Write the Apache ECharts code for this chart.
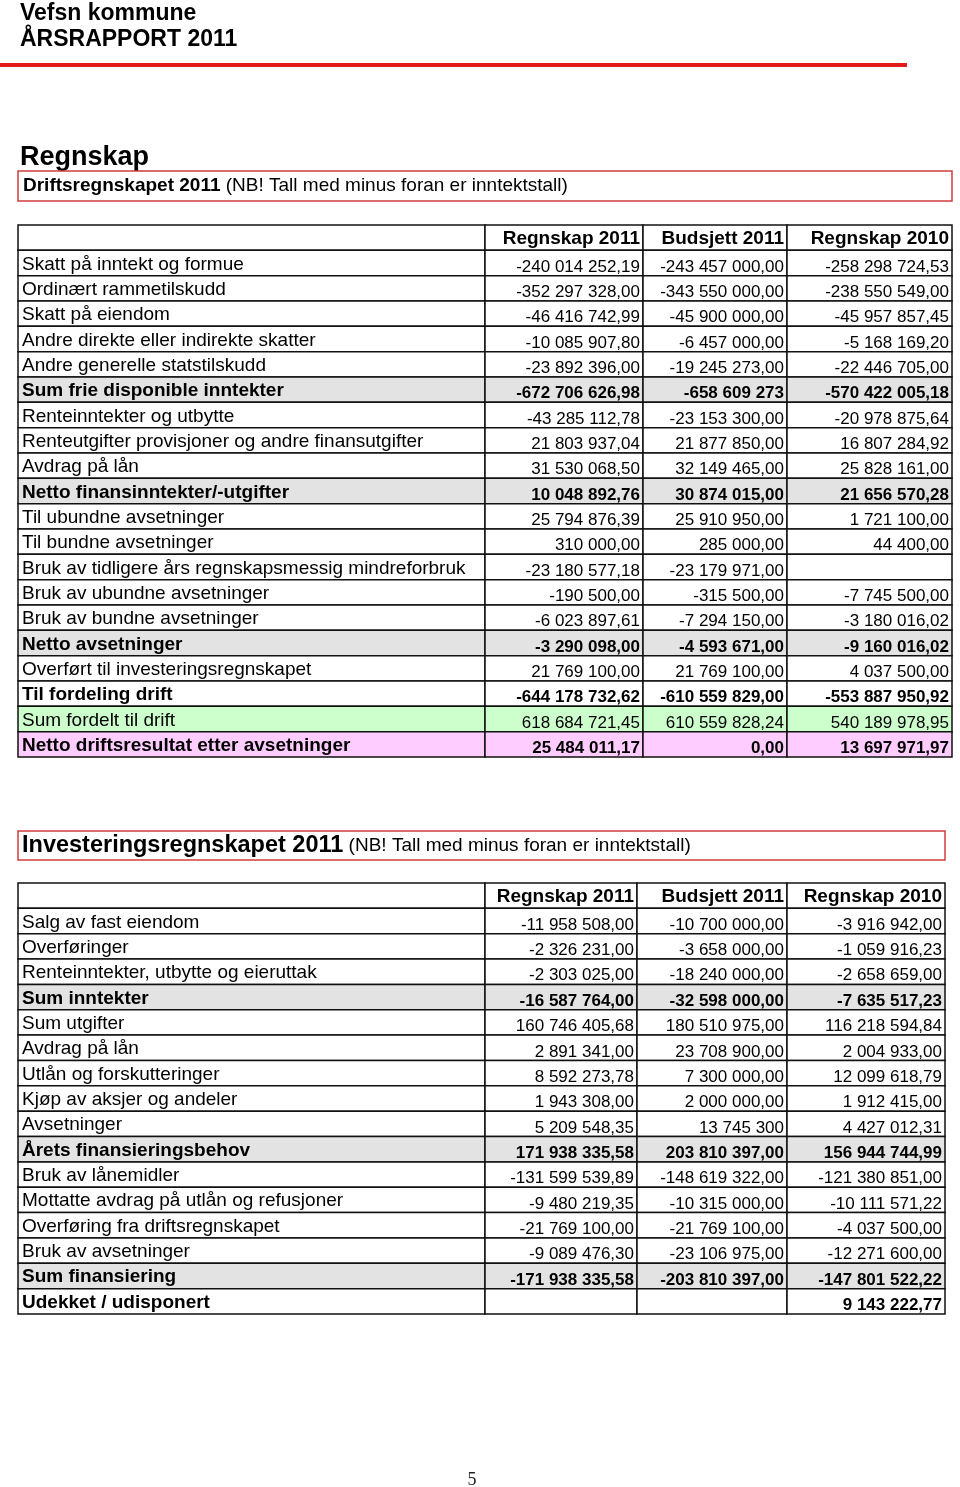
<!DOCTYPE html>
<html>
<head>
<meta charset="utf-8">
<script src="https://cdn.jsdelivr.net/npm/echarts@6/dist/echarts.min.js"></script>
<style>html,body{margin:0;padding:0;background:#fff}#c{width:960px;height:1487px}</style>
</head>
<body>
<div id="c"></div>
<script>
// ---------------- DATA ----------------
const HEADERS = ['Regnskap 2011', 'Budsjett 2011', 'Regnskap 2010'];

const DRIFT_LABELS = [
  'Skatt på inntekt og formue', 'Ordinært rammetilskudd', 'Skatt på eiendom',
  'Andre direkte eller indirekte skatter', 'Andre generelle statstilskudd',
  'Sum frie disponible inntekter', 'Renteinntekter og utbytte',
  'Renteutgifter provisjoner og andre finansutgifter', 'Avdrag på lån',
  'Netto finansinntekter/-utgifter', 'Til ubundne avsetninger', 'Til bundne avsetninger',
  'Bruk av tidligere års regnskapsmessig mindreforbruk', 'Bruk av ubundne avsetninger',
  'Bruk av bundne avsetninger', 'Netto avsetninger', 'Overført til investeringsregnskapet',
  'Til fordeling drift', 'Sum fordelt til drift', 'Netto driftsresultat etter avsetninger'
];
const DRIFT_REGNSKAP_2011 = [
  -240014252.19, -352297328.00, -46416742.99, -10085907.80, -23892396.00,
  -672706626.98, -43285112.78, 21803937.04, 31530068.50, 10048892.76,
  25794876.39, 310000.00, -23180577.18, -190500.00, -6023897.61,
  -3290098.00, 21769100.00, -644178732.62, 618684721.45, 25484011.17
];
const DRIFT_BUDSJETT_2011 = [
  -243457000.00, -343550000.00, -45900000.00, -6457000.00, -19245273.00,
  -658609273, -23153300.00, 21877850.00, 32149465.00, 30874015.00,
  25910950.00, 285000.00, -23179971.00, -315500.00, -7294150.00,
  -4593671.00, 21769100.00, -610559829.00, 610559828.24, 0.00
];
const DRIFT_REGNSKAP_2010 = [
  -258298724.53, -238550549.00, -45957857.45, -5168169.20, -22446705.00,
  -570422005.18, -20978875.64, 16807284.92, 25828161.00, 21656570.28,
  1721100.00, 44400.00, null, -7745500.00, -3180016.02,
  -9160016.02, 4037500.00, -553887950.92, 540189978.95, 13697971.97
];
// row kinds: n = normal, s = sum (bold, grey), b = bold, g = green, p = pink (bold)
const DRIFT_KINDS = ['n','n','n','n','n','s','n','n','n','s','n','n','n','n','n','s','n','b','g','p'];
// cells shown without decimals [row, column]
const DRIFT_WHOLE = [[5, 1]];

const INV_LABELS = [
  'Salg av fast eiendom', 'Overføringer', 'Renteinntekter, utbytte og eieruttak',
  'Sum inntekter', 'Sum utgifter', 'Avdrag på lån', 'Utlån og forskutteringer',
  'Kjøp av aksjer og andeler', 'Avsetninger', 'Årets finansieringsbehov',
  'Bruk av lånemidler', 'Mottatte avdrag på utlån og refusjoner',
  'Overføring fra driftsregnskapet', 'Bruk av avsetninger', 'Sum finansiering',
  'Udekket / udisponert'
];
const INV_REGNSKAP_2011 = [
  -11958508.00, -2326231.00, -2303025.00, -16587764.00, 160746405.68,
  2891341.00, 8592273.78, 1943308.00, 5209548.35, 171938335.58,
  -131599539.89, -9480219.35, -21769100.00, -9089476.30, -171938335.58, null
];
const INV_BUDSJETT_2011 = [
  -10700000.00, -3658000.00, -18240000.00, -32598000.00, 180510975.00,
  23708900.00, 7300000.00, 2000000.00, 13745300, 203810397.00,
  -148619322.00, -10315000.00, -21769100.00, -23106975.00, -203810397.00, null
];
const INV_REGNSKAP_2010 = [
  -3916942.00, -1059916.23, -2658659.00, -7635517.23, 116218594.84,
  2004933.00, 12099618.79, 1912415.00, 4427012.31, 156944744.99,
  -121380851.00, -10111571.22, -4037500.00, -12271600.00, -147801522.22, 9143222.77
];
const INV_KINDS = ['n','n','n','s','n','n','n','n','n','s','n','n','n','n','s','b'];
const INV_WHOLE = [[8, 1]];

// ---------------- LAYOUT ----------------
const FONT = "'Liberation Sans', Arial, Helvetica, sans-serif";
const FILL = { n: '#ffffff', s: '#e3e3e3', b: '#ffffff', g: '#ccffcc', p: '#ffccff' };
const BOLD = { n: false, s: true, b: true, g: false, p: true };

function fmt(v, whole) {
  if (v === null || v === undefined) return '';
  const neg = v < 0;
  const s = Math.abs(v).toFixed(whole ? 0 : 2);
  const parts = s.split('.');
  const g = parts[0].replace(/\B(?=(\d{3})+(?!\d))/g, ' ');
  return (neg ? '-' : '') + g + (parts[1] ? ',' + parts[1] : '');
}

function buildCells(labels, c1, c2, c3, kinds, whole) {
  const cells = [];
  cells.push({ value: [0, 0], text: '', kind: 'n', header: true });
  HEADERS.forEach((h, i) => cells.push({ value: [i + 1, 0], text: h, kind: 'n', header: true }));
  const cols = [c1, c2, c3];
  labels.forEach((lab, r) => {
    cells.push({ value: [0, r + 1], text: lab, kind: kinds[r], label: true });
    cols.forEach((arr, ci) => {
      const w = whole.some(p => p[0] === r && p[1] === ci);
      cells.push({ value: [ci + 1, r + 1], text: fmt(arr[r], w), kind: kinds[r] });
    });
  });
  return cells;
}

function makeRender(cells, edges) {
  return function (params, api) {
    const cell = cells[params.dataIndex];
    const c = api.value(0), r = api.value(1);
    const p0 = api.coord([edges[c], r]);
    const p1 = api.coord([edges[c + 1], r + 1]);
    const x = p0[0], y = p0[1], w = p1[0] - p0[0], h = p1[1] - p0[1];
    const bold = cell.header || BOLD[cell.kind];
    const children = [{
      type: 'rect',
      shape: { x: x, y: y, width: w, height: h },
      style: { fill: FILL[cell.kind], stroke: '#111', lineWidth: 1.5 }
    }];
    if (cell.text) {
      let tx, ty, size, align;
      if (cell.header) { tx = x + w - 3; ty = y + h * 0.5 + 1; size = 19; align = 'right'; }
      else if (cell.label) { tx = x + 4; ty = y + h * 0.55; size = 19; align = 'left'; }
      else { tx = x + w - 3; ty = y + h * 0.66; size = 17; align = 'right'; }
      children.push({
        type: 'text', x: tx, y: ty,
        style: {
          text: cell.text, fill: '#000',
          font: (bold ? 'bold ' : '') + size + 'px ' + FONT,
          align: align, verticalAlign: 'middle',
          textAlign: align, textVerticalAlign: 'middle'
        }
      });
    }
    return { type: 'group', children: children };
  };
}

const T1 = { left: 18, top: 225, width: 934, height: 532, edges: [0, 467, 625, 769, 934] };
const T2 = { left: 18, top: 883, width: 927, height: 431, edges: [0, 467, 619, 769, 927] };

const cells1 = buildCells(DRIFT_LABELS, DRIFT_REGNSKAP_2011, DRIFT_BUDSJETT_2011, DRIFT_REGNSKAP_2010, DRIFT_KINDS, DRIFT_WHOLE);
const cells2 = buildCells(INV_LABELS, INV_REGNSKAP_2011, INV_BUDSJETT_2011, INV_REGNSKAP_2010, INV_KINDS, INV_WHOLE);

function txt(x, y, text, font, extra) {
  return Object.assign({
    type: 'text', x: x, y: y, silent: true,
    style: { text: text, font: font, fill: '#000', textVerticalAlign: 'middle', verticalAlign: 'middle' }
  }, extra || {});
}

const chart = echarts.init(document.getElementById('c'), null, { renderer: 'canvas' });
chart.setOption({
  animation: false,
  backgroundColor: '#fff',
  grid: [
    { left: T1.left, top: T1.top, width: T1.width, height: T1.height, show: false },
    { left: T2.left, top: T2.top, width: T2.width, height: T2.height, show: false }
  ],
  xAxis: [
    { gridIndex: 0, type: 'value', min: 0, max: T1.width, show: false },
    { gridIndex: 1, type: 'value', min: 0, max: T2.width, show: false }
  ],
  yAxis: [
    { gridIndex: 0, type: 'value', min: 0, max: DRIFT_LABELS.length + 1, inverse: true, show: false },
    { gridIndex: 1, type: 'value', min: 0, max: INV_LABELS.length + 1, inverse: true, show: false }
  ],
  series: [
    { type: 'custom', xAxisIndex: 0, yAxisIndex: 0, clip: false, silent: true,
      renderItem: makeRender(cells1, T1.edges), data: cells1.map(c => c.value) },
    { type: 'custom', xAxisIndex: 1, yAxisIndex: 1, clip: false, silent: true,
      renderItem: makeRender(cells2, T2.edges), data: cells2.map(c => c.value) }
  ],
  graphic: [
    txt(20, 14, 'Vefsn kommune', 'bold 23px ' + FONT),
    txt(20, 40, 'ÅRSRAPPORT 2011', 'bold 23px ' + FONT),
    { type: 'rect', silent: true, shape: { x: 0, y: 63, width: 907, height: 4 }, style: { fill: '#e41b1b' } },
    txt(20, 158, 'Regnskap', 'bold 27px ' + FONT),
    { type: 'rect', silent: true, shape: { x: 18, y: 171, width: 934, height: 30 },
      style: { fill: '#fff', stroke: '#d23c3c', lineWidth: 1.5 } },
    txt(23, 186, '', '19px ' + FONT, {
      style: { text: '{b|Driftsregnskapet 2011} {r|(NB! Tall med minus foran er inntektstall)}',
        font: '19px ' + FONT, fill: '#000', textVerticalAlign: 'middle', verticalAlign: 'middle',
        rich: { b: { font: 'bold 19px ' + FONT, fill: '#000' }, r: { font: '19px ' + FONT, fill: '#000' } } }
    }),
    { type: 'rect', silent: true, shape: { x: 18, y: 831, width: 927, height: 29 },
      style: { fill: '#fff', stroke: '#d23c3c', lineWidth: 1.5 } },
    txt(22, 846, '', '19px ' + FONT, {
      style: { text: '{b|Investeringsregnskapet 2011} {r|(NB! Tall med minus foran er inntektstall)}',
        font: '19px ' + FONT, fill: '#000', textVerticalAlign: 'middle', verticalAlign: 'middle',
        rich: { b: { font: 'bold 23.5px ' + FONT, fill: '#000' }, r: { font: '19px ' + FONT, fill: '#000' } } }
    }),
    txt(472, 1480, '', '18px "Liberation Serif", "DejaVu Serif", serif', {
      style: { text: '5', font: '18px "Liberation Serif", "DejaVu Serif", serif', fill: '#222',
        textAlign: 'center', align: 'center', textVerticalAlign: 'middle', verticalAlign: 'middle' }
    })
  ]
});
</script>
</body>
</html>
